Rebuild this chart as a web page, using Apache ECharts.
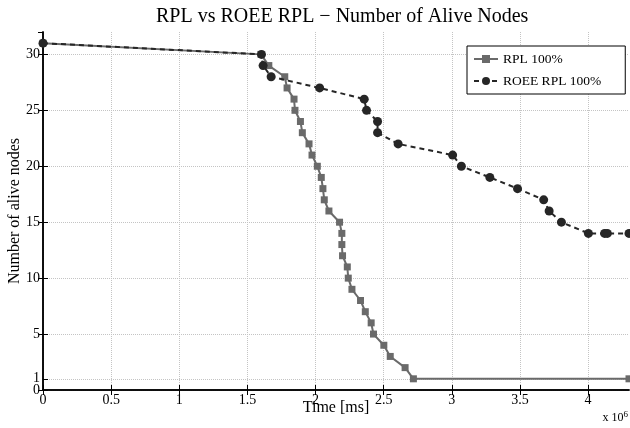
<!DOCTYPE html>
<html lang="en">

<head>
    <meta charset="UTF-8">
    <title>alive nodes</title>
    <script src="https://cdn.jsdelivr.net/npm/echarts@6/dist/echarts.min.js"></script>
    <style type="text/css">
        body {
            margin: 0;
            background: #fff;
        }

        #main {
            width: 630px;
            height: 428px;
        }
    </style>
</head>

<body>
    <div id="main"></div>
</body>
<script>
    // time in units of 10^6 ms
    var rplTime = [0, 1.6, 1.657, 1.774, 1.791, 1.842, 1.849, 1.889, 1.903, 1.952, 1.974, 2.013, 2.042, 2.054, 2.064,
        2.098, 2.176, 2.193, 2.193, 2.198, 2.233, 2.240, 2.267, 2.330, 2.365, 2.408, 2.425, 2.501, 2.548, 2.657, 2.718, 4.3];
    var rplNodes = [31, 30, 29, 28, 27, 26, 25, 24, 23, 22, 21, 20, 19, 18, 17,
        16, 15, 14, 13, 12, 11, 10, 9, 8, 7, 6, 5, 4, 3, 2, 1, 1];

    var roeeTime = [0, 1.603, 1.615, 1.674, 2.030, 2.357, 2.374, 2.455, 2.455, 2.606, 3.006, 3.070, 3.279, 3.482,
        3.674, 3.714, 3.804, 4.002, 4.121, 4.141, 4.3];
    var roeeNodes = [31, 30, 29, 28, 27, 26, 25, 24, 23, 22, 21, 20, 19, 18,
        17, 16, 15, 14, 14, 14, 14];

    var yTicks = [0, 5, 10, 15, 20, 25, 30];
    var yExtraTick = 1;
    var xTicks = [0, 0.5, 1, 1.5, 2, 2.5, 3, 3.5, 4];

    var pairs = function (xs, ys) {
        var res = [];
        for (var i = 0; i < xs.length; i++) {
            res.push([xs[i], ys[i]]);
        }
        return res;
    };

    var font = 'Liberation Serif';
    var gridDots = { type: 'dotted', color: '#c4c4c4', width: 1 };

    option = {
        backgroundColor: '#fff',
        animation: false,
        title: {
            text: 'RPL vs ROEE RPL \u2212 Number of Alive Nodes',
            left: 151,
            top: 2,
            textStyle: {
                fontFamily: font,
                fontSize: 20,
                fontWeight: 'normal',
                color: '#000'
            }
        },
        grid: {
            left: 43,
            top: 32,
            right: 1,
            bottom: 38,
            outerBoundsMode: 'none'
        },
        legend: {
            orient: 'vertical',
            left: 467,
            top: 46,
            padding: [6, 24, 6, 6],
            itemWidth: 24,
            itemHeight: 10,
            itemGap: 8,
            borderColor: '#000',
            borderWidth: 1,
            backgroundColor: '#fff',
            textStyle: {
                fontFamily: font,
                fontSize: 13.5,
                color: '#000'
            },
            data: ['RPL 100%', 'ROEE RPL 100%']
        },
        xAxis: [{
            type: 'value',
            min: 0,
            max: 4.3,
            interval: 0.5,
            name: 'Time [ms]',
            nameLocation: 'middle',
            nameGap: 10,
            nameMoveOverlap: false,
            nameTextStyle: {
                fontFamily: font,
                fontSize: 16,
                color: '#000',
                verticalAlign: 'top'
            },
            axisLine: {
                lineStyle: { color: '#000', width: 1.5 }
            },
            axisTick: {
                inside: true,
                length: 5,
                customValues: xTicks,
                lineStyle: { color: '#000' }
            },
            axisLabel: {
                customValues: xTicks,
                showMinLabel: true,
                hideOverlap: false,
                margin: 3,
                fontFamily: font,
                fontSize: 14,
                color: '#000'
            },
            splitLine: {
                show: true,
                lineStyle: gridDots
            }
        }, {
            type: 'value',
            position: 'top',
            min: 0,
            max: 4.3,
            interval: 0.5,
            axisLine: {
                lineStyle: { color: '#000', width: 1.5 }
            },
            axisTick: {
                inside: true,
                length: 5,
                customValues: xTicks,
                lineStyle: { color: '#000' }
            },
            axisLabel: { show: false },
            splitLine: { show: false }
        }],
        yAxis: [{
            type: 'value',
            min: 0,
            max: 32,
            interval: 5,
            name: 'Number of alive nodes',
            nameLocation: 'middle',
            nameGap: 20,
            nameMoveOverlap: false,
            nameTextStyle: {
                fontFamily: font,
                fontSize: 16,
                color: '#000'
            },
            axisLine: {
                show: true,
                lineStyle: { color: '#000', width: 1.5 }
            },
            axisTick: {
                show: true,
                inside: true,
                length: 5,
                customValues: yTicks.concat([yExtraTick]),
                lineStyle: { color: '#000' }
            },
            axisLabel: {
                customValues: yTicks,
                showMinLabel: true,
                hideOverlap: false,
                margin: 3,
                fontFamily: font,
                fontSize: 14,
                color: '#000',
                verticalAlign: 'middle'
            },
            splitLine: {
                show: true,
                lineStyle: gridDots
            }
        }, {
            type: 'value',
            position: 'right',
            min: 0,
            max: 32,
            interval: 5,
            axisLine: {
                show: true,
                lineStyle: { color: '#000', width: 1.5 }
            },
            axisTick: {
                show: true,
                inside: true,
                length: 5,
                lineStyle: { color: '#000' }
            },
            axisLabel: { show: false },
            splitLine: { show: false }
        }],
        graphic: [{
            type: 'text',
            right: 2,
            top: 410,
            style: {
                text: 'x 10{sup|6}',
                fontFamily: font,
                fontSize: 12,
                fill: '#000',
                rich: {
                    sup: {
                        fontFamily: font,
                        fontSize: 9,
                        verticalAlign: 'top',
                        padding: [0, 0, 7, 0]
                    }
                }
            }
        }],
        series: [{
            name: 'RPL 100%',
            type: 'line',
            data: pairs(rplTime, rplNodes),
            symbol: 'rect',
            symbolSize: 7,
            showAllSymbol: true,
            color: '#6a6a6a',
            lineStyle: { width: 2, color: '#6a6a6a' },
            itemStyle: { color: '#6a6a6a' },
            z: 2,
            markLine: {
                silent: true,
                symbol: 'none',
                animation: false,
                lineStyle: gridDots,
                label: {
                    position: 'start',
                    distance: 3,
                    formatter: String(yExtraTick),
                    fontFamily: font,
                    fontSize: 14,
                    color: '#000'
                },
                emphasis: { disabled: true },
                z: 0,
                data: [{ yAxis: yExtraTick }]
            }
        }, {
            name: 'ROEE RPL 100%',
            type: 'line',
            data: pairs(roeeTime, roeeNodes),
            symbol: 'circle',
            symbolSize: 9,
            showAllSymbol: true,
            color: '#262626',
            lineStyle: { width: 2, type: [5, 4], color: '#262626' },
            itemStyle: { color: '#262626' },
            z: 3
        }]
    };

    var myChart = echarts.init(document.getElementById('main'));
    myChart.setOption(option);
</script>

</html>
